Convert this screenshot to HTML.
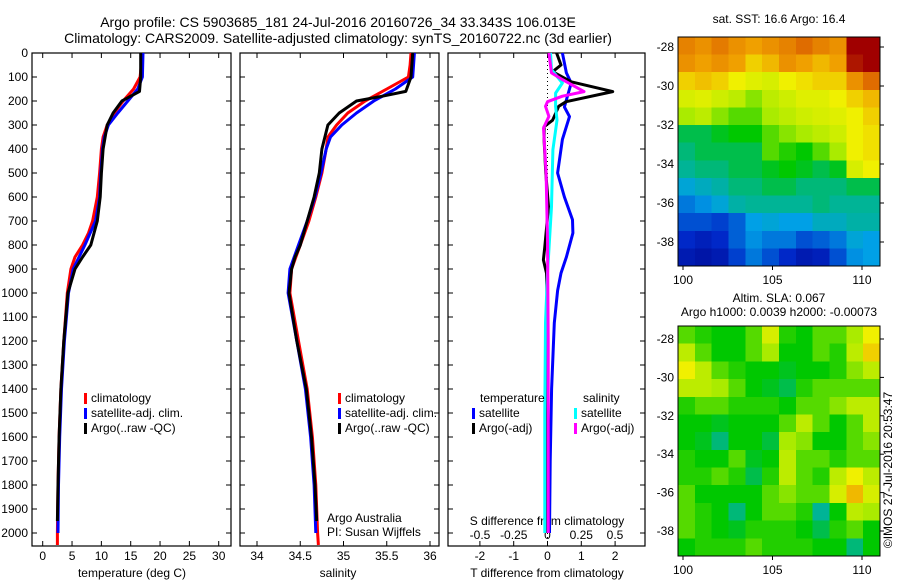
<!DOCTYPE html>
<html><head><meta charset="utf-8">
<style>
body{margin:0;background:#fff;}
svg{display:block;font-family:"Liberation Sans",sans-serif;}
</style></head>
<body>
<svg id="fig" width="900" height="580" viewBox="0 0 900 580" xmlns="http://www.w3.org/2000/svg">
<text x="338" y="27" font-size="14" text-anchor="middle">Argo profile: CS 5903685_181 24-Jul-2016 20160726_34 33.343S 106.013E</text>
<text x="338" y="43" font-size="14" text-anchor="middle">Climatology: CARS2009. Satellite-adjusted climatology: synTS_20160722.nc (3d earlier)</text>
<text x="779" y="23" font-size="12" text-anchor="middle">sat. SST: 16.6 Argo: 16.4</text>
<text x="779" y="302" font-size="12" text-anchor="middle">Altim. SLA: 0.067</text>
<text x="779" y="316" font-size="12" text-anchor="middle">Argo h1000: 0.0039 h2000: -0.00073</text>
<text transform="translate(892,470) rotate(-90)" font-size="12" text-anchor="middle">©IMOS 27-Jul-2016 20:53:47</text>
<g id="g"></g>
</svg>
<script>
// ---- data ----
const depthTicks=[0,100,200,300,400,500,600,700,800,900,1000,1100,1200,1300,1400,1500,1600,1700,1800,1900,2000];
const tempTicks=[0,5,10,15,20,25,30];
const salTicks=[34,34.5,35,35.5,36];
const salTickLabels=["34","34.5","35","35.5","36"];
const tdTicks=[-2,-1,0,1,2];
const sdTicks=[-0.5,-0.25,0,0.25,0.5];
const sdTickLabels=["-0.5","-0.25","0","0.25","0.5"];

const climDepth=[0,50,100,150,200,250,300,350,400,500,600,700,750,800,850,900,1000,1200,1400,1600,1800,2000,2050];
const climTemp=[16.8,16.8,16.6,15.5,13.7,12.2,11.0,10.3,10.0,9.7,9.3,8.5,7.8,6.8,5.5,4.8,4.2,3.6,3.1,2.8,2.6,2.5,2.5];
const climSal=[35.78,35.77,35.75,35.5,35.25,35.05,34.92,34.82,34.8,34.75,34.68,34.6,34.55,34.5,34.45,34.4,34.38,34.48,34.58,34.64,34.68,34.7,34.71];
const satDepth=[0,100,150,200,250,300,350,400,500,600,700,800,900,1000,1200,1400,1600,1800,2000];
const satTemp=[17.1,17.0,16.2,14.5,12.8,11.2,10.5,10.2,9.9,9.7,9.0,7.2,5.2,4.4,3.7,3.2,2.9,2.7,2.6];
const satSal=[35.82,35.8,35.6,35.35,35.15,34.98,34.85,34.8,34.74,34.67,34.58,34.48,34.38,34.36,34.46,34.56,34.62,34.66,34.68];
const argoDepth=[0,100,160,180,200,250,300,400,500,600,700,800,850,900,1000,1200,1400,1600,1800,1950];
const argoTemp=[16.7,16.7,16.5,15.0,13.5,12.0,11.0,10.3,10.0,9.8,9.3,8.2,6.8,5.5,4.3,3.6,3.1,2.8,2.6,2.5];
const argoSal=[35.8,35.78,35.72,35.45,35.15,34.95,34.82,34.75,34.72,34.66,34.58,34.5,34.44,34.4,34.37,34.46,34.57,34.63,34.67,34.69];

const tdSatDepth=[0,83,125,225,265,360,500,600,695,750,850,917,990,1125,1400,1700,2000];
const tdSat=[0.44,0.56,0.7,0.5,0.65,0.44,0.3,0.5,0.74,0.75,0.56,0.4,0.3,0.2,0.12,0.08,0.06];
const tdArgoDepth=[0,50,78,120,161,203,222,280,307,362,500,640,808,862,917,1100,1500,2000];
const tdArgo=[0.27,0.4,0.15,0.7,1.93,0.55,0.33,0.15,-0.1,-0.1,-0.05,0.03,-0.08,-0.12,-0.03,0.0,0.0,0.0];
const sdSatDepth=[0,69,125,167,222,280,403,640,917,1125,1500,2000];
const sdSat=[0.022,0.03,0.11,0.06,0.06,0.07,0.04,0.03,0.0,-0.015,-0.02,-0.02];
const sdArgoDepth=[0,83,111,161,180,203,222,264,313,500,778,1200,2000];
const sdArgo=[0.01,0.03,0.11,0.27,0.11,0.0,-0.015,0.01,-0.03,-0.01,0.0,0.005,0.005];

const mapLonTicks=[100,105,110];
const mapLatTicks=[-28,-30,-32,-34,-36,-38];
const sstGrid=[
[.82,.80,.83,.80,.78,.80,.82,.85,.82,.80,.95,.95],
[.80,.78,.80,.78,.72,.75,.80,.78,.75,.78,.93,.95],
[.72,.74,.72,.68,.66,.65,.68,.70,.72,.72,.80,.85],
[.65,.66,.64,.62,.58,.62,.64,.66,.66,.68,.72,.75],
[.60,.62,.58,.55,.55,.60,.62,.64,.65,.66,.68,.72],
[.45,.45,.48,.50,.50,.55,.58,.60,.62,.64,.68,.70],
[.42,.45,.45,.45,.45,.55,.52,.50,.55,.60,.68,.70],
[.40,.42,.42,.45,.45,.48,.50,.48,.45,.48,.65,.68],
[.32,.35,.38,.42,.42,.45,.45,.42,.42,.42,.45,.45],
[.25,.28,.32,.38,.40,.40,.40,.40,.42,.40,.40,.40],
[.20,.20,.18,.22,.30,.32,.30,.30,.35,.35,.38,.38],
[.15,.12,.15,.22,.28,.25,.25,.20,.22,.25,.32,.30],
[.10,.08,.10,.18,.25,.20,.15,.10,.12,.20,.28,.30]];
const slaGrid=[
[.55,.52,.50,.50,.55,.65,.52,.50,.55,.55,.60,.68],
[.62,.55,.50,.50,.55,.60,.50,.50,.55,.52,.62,.72],
[.68,.62,.55,.52,.50,.50,.48,.50,.50,.52,.58,.62],
[.62,.62,.60,.55,.50,.48,.45,.52,.55,.55,.55,.55],
[.52,.55,.55,.52,.52,.52,.50,.55,.55,.58,.62,.62],
[.50,.50,.48,.50,.50,.50,.55,.62,.55,.50,.55,.62],
[.50,.48,.42,.50,.50,.46,.60,.58,.50,.50,.55,.58],
[.52,.50,.50,.55,.48,.50,.62,.55,.55,.52,.55,.55],
[.52,.52,.55,.52,.45,.52,.62,.55,.52,.62,.68,.62],
[.55,.50,.50,.50,.50,.55,.58,.55,.55,.65,.75,.65],
[.55,.52,.50,.42,.50,.55,.55,.52,.40,.50,.62,.60],
[.55,.52,.50,.48,.52,.52,.52,.50,.45,.52,.55,.50],
[.50,.52,.52,.52,.55,.52,.52,.52,.50,.50,.42,.50]];

// ---- helpers ----
const NS="http://www.w3.org/2000/svg";
const G=document.getElementById('g');
function mk(tag,attrs,parent){const e=document.createElementNS(NS,tag);for(const k in attrs)e.setAttribute(k,attrs[k]);(parent||G).appendChild(e);return e;}
const TOP=53,BOT=546;
const yD=d=>TOP+d*0.24;
const panels=[{l:32,r:231},{l:240,r:439},{l:448,r:645}];
const xT=t=>42.7+t*5.867;
const xS=s=>257+(s-34)*86.5;
const xTD=t=>547.5+t*33.8;
const xSD=s=>547.5+s*135;

panels.forEach((p,i)=>{
  const box=mk('rect',{x:p.l,y:TOP,width:p.r-p.l,height:BOT-TOP,fill:'none',stroke:'#000','stroke-width':1.2});
  
  
  depthTicks.forEach(d=>{
    const t1=mk('line',{x1:p.l,x2:p.l+5,y1:yD(d),y2:yD(d),stroke:'#000'});
    
    
    const t2=mk('line',{x1:p.r-5,x2:p.r,y1:yD(d),y2:yD(d),stroke:'#000'});
    
    
  });
});
depthTicks.forEach(d=>{
  const t=mk('text',{x:28,y:yD(d)+4,'font-size':12,'text-anchor':'end'});t.textContent=d;
  
  
});
function xticks(ticks,labels,fx,p,ly,top){
  ticks.forEach((v,i)=>{
    const a=mk('line',{x1:fx(v),x2:fx(v),y1:BOT,y2:BOT-5,stroke:'#000'});
    
    
    if(top){const b=mk('line',{x1:fx(v),x2:fx(v),y1:TOP,y2:TOP+5,stroke:'#000'});
    
    }
    const t=mk('text',{x:fx(v),y:ly,'font-size':12,'text-anchor':'middle'});t.textContent=labels[i];
    
    
  });
}
xticks(tempTicks,tempTicks.map(String),xT,panels[0],560,true);
xticks(salTicks,salTickLabels,xS,panels[1],560,true);
xticks(tdTicks,tdTicks.map(String),xTD,panels[2],560,true);
sdTicks.forEach((v,i)=>{
  const t=mk('text',{x:xSD(v),y:539,'font-size':12,'text-anchor':'middle'});t.textContent=sdTickLabels[i];
  
  
});
function label(x,y,s,name,anchor){const t=mk('text',{x:x,y:y,'font-size':12,'text-anchor':anchor||'middle'});t.textContent=s;
  
  return t;}
label(132,577,'temperature (deg C)','x-axis-title-temperature');
label(338,577,'salinity','x-axis-title-salinity');
label(547,577,'T difference from climatology','x-axis-title-t-diff');
label(547,525,'S difference from climatology','axis-title-s-diff');
label(327,522,'Argo Australia','credit-argo-australia','start');
label(327,536,'PI: Susan Wijffels','credit-pi','start');

const zl=mk('line',{x1:xTD(0),x2:xTD(0),y1:TOP,y2:BOT,stroke:'#000','stroke-dasharray':'1,3'});



function series(ds,vs,fx,color,name){
  const pts=ds.map((d,i)=>fx(vs[i]).toFixed(1)+','+yD(d).toFixed(1)).join(' ');
  const pl=mk('polyline',{points:pts,fill:'none',stroke:color,'stroke-width':3,'stroke-linejoin':'round'});
  
  
}
series(climDepth,climTemp,xT,'#f00','temp-climatology-line');
series(satDepth,satTemp,xT,'#00f','temp-satellite-line');
series(argoDepth,argoTemp,xT,'#000','temp-argo-line');
series(climDepth,climSal,xS,'#f00','salinity-climatology-line');
series(satDepth,satSal,xS,'#00f','salinity-satellite-line');
series(argoDepth,argoSal,xS,'#000','salinity-argo-line');
series(tdSatDepth,tdSat,xTD,'#00f','t-diff-satellite-line');
series(tdArgoDepth,tdArgo,xTD,'#000','t-diff-argo-line');
series(sdSatDepth,sdSat,xSD,'#0ff','s-diff-satellite-line');
series(sdArgoDepth,sdArgo,xSD,'#f0f','s-diff-argo-line');

function legendEntry(x,y,color,text){
  const b=mk('rect',{x:x,y:y-9,width:3,height:11,fill:color});
  
  
  const t=mk('text',{x:x+7,y:y,'font-size':12});t.textContent=text;
  
  
}
[[84,'#f00','climatology'],[84,'#00f','satellite-adj. clim.'],[84,'#000','Argo(..raw -QC)']].forEach((e,i)=>legendEntry(e[0],402+i*15,e[1],e[2]));
[[338,'#f00','climatology'],[338,'#00f','satellite-adj. clim.'],[338,'#000','Argo(..raw -QC)']].forEach((e,i)=>legendEntry(e[0],402+i*15,e[1],e[2]));
label(480,402,'temperature','legend-title-temperature','start');
label(583,402,'salinity','legend-title-salinity','start');
legendEntry(472,417,'#00f','satellite');
legendEntry(472,432,'#000','Argo(-adj)');
legendEntry(574,417,'#0ff','satellite');
legendEntry(574,432,'#f0f','Argo(-adj)');

// ---- maps ----
const CS=[[0,[0,0,130]],[0.15,[0,40,200]],[0.3,[0,160,230]],[0.4,[0,180,150]],[0.5,[0,200,0]],[0.6,[170,235,0]],[0.68,[240,240,0]],[0.78,[240,160,0]],[0.86,[220,100,0]],[0.95,[160,0,0]],[1,[140,0,0]]];
function cmap(v){
  v=Math.max(0,Math.min(1,v));
  for(let i=1;i<CS.length;i++){if(v<=CS[i][0]){const a=CS[i-1],b=CS[i],f=(v-a[0])/(b[0]-a[0]);
    return 'rgb('+[0,1,2].map(k=>Math.round(a[1][k]+f*(b[1][k]-a[1][k]))).join(',')+')';}}
  return 'rgb(140,0,0)';
}
function drawMap(grid,box,lat0y,lat38y,name){
  const rows=grid.length,cols=grid[0].length;
  const cw=(box.r-box.l)/cols,ch=(box.b-box.t)/rows;
  grid.forEach((row,ri)=>row.forEach((v,ci)=>{
    const c=mk('rect',{x:box.l+ci*cw,y:box.t+ri*ch,width:cw+0.6,height:ch+0.6,fill:cmap(v),'shape-rendering':'crispEdges'});
    
    
  }));
  const fr=mk('rect',{x:box.l,y:box.t,width:box.r-box.l,height:box.b-box.t,fill:'none',stroke:'#000'});
  
  
  const xL=lon=>683+(lon-100)*17.9;
  const yL=lat=>lat0y+(-28-lat)*(lat38y-lat0y)/10;
  mapLonTicks.forEach(lon=>{
    const a=mk('line',{x1:xL(lon),x2:xL(lon),y1:box.b,y2:box.b+4,stroke:'#000'});
    
    
    const t=mk('text',{x:xL(lon),y:box.b+18,'font-size':12,'text-anchor':'middle'});t.textContent=lon;
    
    
  });
  mapLatTicks.forEach(lat=>{
    const a=mk('line',{x1:box.r,x2:box.r+4,y1:yL(lat),y2:yL(lat),stroke:'#000'});
    
    
    const t=mk('text',{x:box.l-4,y:yL(lat)+4,'font-size':12,'text-anchor':'end'});t.textContent=lat;
    
    
  });
}
drawMap(sstGrid,{l:678,r:880,t:37,b:266},47,242,'sst-map');
drawMap(slaGrid,{l:678,r:880,t:326,b:556},339,531,'sla-map');
</script>
</body></html>
